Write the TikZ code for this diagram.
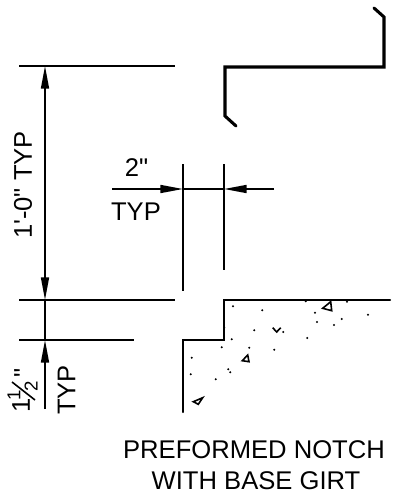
\documentclass[tikz,border=0pt]{standalone}
\usepackage{fontspec}
\newfontfamily\cadfont{Liberation Sans}
\usetikzlibrary{arrows.meta}
\tikzset{
  heavy/.style={line width=2.3pt,line cap=round,line join=miter},
  medium/.style={line width=1.7pt,line cap=round,line join=miter},
  dimline/.style={line width=1.2pt},
  dimtip/.style={-{Triangle[length=17pt,width=6pt]}},
  label/.style={font=\cadfont\fontsize{19.2}{22}\selectfont,inner sep=0pt},
  fraclabel/.style={font=\cadfont\fontsize{14}{16}\selectfont,inner sep=0pt},
  speck/.style={fill,circle,inner sep=0pt,minimum size=1.7pt},
  grit/.style={line width=1.2pt,line join=miter}
}
\begin{document}
\begin{tikzpicture}[x=0.75pt,y=-0.75pt]
  \useasboundingbox (0,0) rectangle (402,493);

  %girt section at the top
  \draw[heavy] (374,8) -- (384,17) -- (384,67) -- (225,67) -- (225,116) -- (236,126);

  %extension lines, define the ends first
  \coordinate (topA) at (19,66);
  \coordinate (topB) at (175,66);
  \coordinate (midA) at (19,300);
  \coordinate (midB) at (175,300);
  \coordinate (lowA) at (19,340);
  \coordinate (lowB) at (134,340);
  \draw[dimline] (topA) -- (topB);
  \draw[dimline] (midA) -- (midB);
  \draw[dimline] (lowA) -- (lowB);

  %the long vertical dimension
  \coordinate (spanT) at (45,66);
  \coordinate (spanM) at (45,180);
  \coordinate (spanB) at (45,300);
  \coordinate (stepB) at (45,340);
  \coordinate (tailB) at (45,409);
  \draw[dimline,dimtip] (spanM) -- (spanT);
  \draw[dimline,dimtip] (spanM) -- (spanB);
  \draw[dimline] (spanB) -- (stepB);
  \draw[dimline,dimtip] (tailB) -- (stepB);
  \node (spanlabel) at (23,185) [label,rotate=90] {1'-0" TYP};
  \node (typlabel) at (66.5,390) [label,rotate=90] {TYP};

  %the one and a half, set by hand
  \node (halfone) at (21,405) [label,rotate=90] {1};
  \node (halfnum) at (14,395.5) [fraclabel,rotate=90] {1};
  \node (halfden) at (31,386) [fraclabel,rotate=90] {2};
  \node (halfquote) at (23,373) [label,rotate=90] {"};
  \coordinate (barA) at (12,382);
  \coordinate (barB) at (35,400);
  \draw[dimline] (barA) -- (barB);

  %the 2 inch dimension
  \coordinate (wallLT) at (183,164);
  \coordinate (wallLB) at (183,291);
  \coordinate (wallRT) at (224,164);
  \coordinate (wallRB) at (224,270);
  \draw[dimline] (wallLT) -- (wallLB);
  \draw[dimline] (wallRT) -- (wallRB);
  \coordinate (gapL) at (183,189);
  \coordinate (gapR) at (224,189);
  \coordinate (inL) at (112,189);
  \coordinate (inR) at (274,189);
  \draw[dimline,dimtip] (inL) -- (gapL);
  \draw[dimline] (gapL) -- (gapR);
  \draw[dimline,dimtip] (inR) -- (gapR);
  \node (twolabel) at (136.5,167.5) [label] {2"};
  \node (typtwo) at (136,211.5) [label] {TYP};

  %notch in the slab
  \draw[medium] (390,300) -- (224,300) -- (224,340) -- (183,340) -- (183,412);

  %specks of the concrete
  \foreach \px/\py [count=\i] in {233/306.3,262.3/310.3,305.7/301.3,347/301.7,315/312.7,368/314.7,
      341.7/319,317/322,334/325,254.3/330.3,283.3/332,224.3/327.7,307.3/338,231.7/339.3,221.7/347.3,
      249.3/347.7,274.3/349.7,191.7/357.7,228.3/369.3,230.3/372.3,190.7/374.3,215.7/379.3}
    \node (speck\i) at (\px,\py) [speck] {};

  %small stones
  \draw[grit] (322.7,308.3) -- (330.7,301.7) -- (331.7,310.7) -- cycle;
  \draw[grit] (242.3,360.7) -- (247.7,355) -- (249,361.7) -- cycle;
  \draw[grit] (272.7,327.7) -- (276.7,332) -- (280.7,327.7);
  \draw[grit] (193.3,401.7) -- (202.7,397.7) -- (198.3,404.3) -- cycle;

  %title below
  \node (title) at (254,449.5) [label] {PREFORMED NOTCH};
  \node (subtitle) at (256,481) [label] {WITH BASE GIRT};
\end{tikzpicture}
\end{document}
